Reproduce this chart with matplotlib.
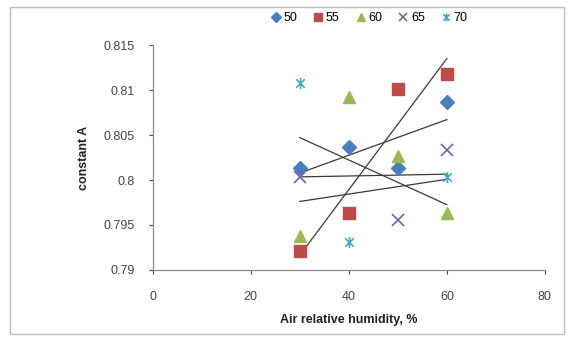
import numpy as np
import matplotlib.pyplot as plt
from matplotlib.patches import Rectangle
from matplotlib.path import Path

plt.rcParams['font.family'] = ['Liberation Sans', 'DejaVu Sans']

# relative humidity levels and fitted constant A for each temperature
humidity = [30, 40, 50, 60]
series_names = ['50', '55', '60', '65', '70']
a_50 = [0.8013, 0.8037, 0.8013, 0.8087]
a_55 = [0.7921, 0.7963, 0.8101, 0.8118]
a_60 = [0.7938, 0.8092, 0.8027, 0.7963]
a_65 = [0.8003, 0.7963, 0.7955, 0.8033]
a_70 = [0.8108, 0.7931, None, 0.8003]

y_ticks = [0.79, 0.795, 0.8, 0.805, 0.81, 0.815]
y_labels = ['0.79', '0.795', '0.8', '0.805', '0.81', '0.815']
x_ticks = [0, 20, 40, 60, 80]

# star marker: an x with a vertical bar through it
star = Path([(-1, -1), (1, 1), (-1, 1), (1, -1), (0, -1.3), (0, 1.3)],
            [Path.MOVETO, Path.LINETO, Path.MOVETO, Path.LINETO, Path.MOVETO, Path.LINETO])

styles = [
    dict(marker='D', color='#4A7EBB', ms=7),
    dict(marker='s', color='#BE4B48', ms=8),
    dict(marker='^', color='#98B954', ms=8),
    dict(marker='x', color='#7D60A0', ms=8, mew=1.2),
    dict(marker=star, color='#46AAC5', ms=8, mew=1.2),
]
zorders = [4, 6, 4, 5, 4]

fig = plt.figure(figsize=(5.7, 3.37), dpi=100)
ax = fig.add_axes([0.268, 0.199, 0.688, 0.667])

for name, vals, st, z in zip(series_names, [a_50, a_55, a_60, a_65, a_70], styles, zorders):
    xs = np.array([x for x, v in zip(humidity, vals) if v is not None], dtype=float)
    ys = np.array([v for v in vals if v is not None], dtype=float)
    ax.plot(xs, ys, linestyle='none', marker=st['marker'], color=st['color'],
            markersize=st['ms'], markeredgewidth=st.get('mew', 1.0), label=name, zorder=z)
    # linear trendline over the data range
    k, b = np.polyfit(xs, ys, 1)
    xl = np.array([xs.min(), xs.max()])
    ax.plot(xl, k * xl + b, color='#3a3a3a', lw=0.9, zorder=3)

ax.set_xlim(0, 80)
ax.set_ylim(0.79, 0.815)
ax.set_xticks(x_ticks)
ax.set_yticks(y_ticks)
ax.set_yticklabels(y_labels)
ax.tick_params(labelsize=9, colors='#444444', length=3, width=0.8, direction='out')
ax.tick_params(axis='y', pad=10)
ax.tick_params(axis='x', pad=12)
for s in ['top', 'right']:
    ax.spines[s].set_visible(False)
for s in ['left', 'bottom']:
    ax.spines[s].set_color('#8c8c8c')
    ax.spines[s].set_linewidth(0.9)

ax.set_xlabel('Air relative humidity, %', fontsize=9, fontweight='bold', color='#222222', labelpad=8)
ax.set_ylabel('constant A', fontsize=9, fontweight='bold', color='#222222', labelpad=10)

ax.legend(loc='center', bbox_to_anchor=(0.55, 1.12), ncol=5, frameon=False, fontsize=9,
          handletextpad=0.1, columnspacing=1.2, handlelength=1.0, markerscale=0.75)

# light frame around the whole chart area
fig.patches.append(Rectangle((0.018, 0.01), 0.972, 0.97, transform=fig.transFigure,
                             fill=False, edgecolor='#bfbfbf', lw=1.0))

fig.savefig('out.png', dpi=100)
